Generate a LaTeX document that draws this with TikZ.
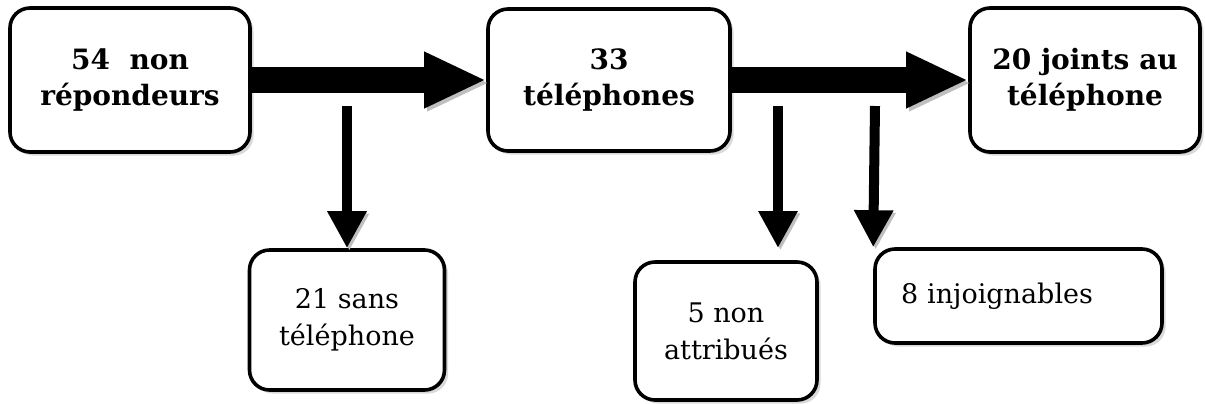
\documentclass[tikz,border=0pt]{standalone}
\usepackage{fontspec}
\setmainfont{DejaVu Serif}
\usepackage{tikz}
\usetikzlibrary{arrows.meta}
\usetikzlibrary{shadows}
\usetikzlibrary{positioning}
\tikzset{>=latex}
\tikzstyle{box} = [rectangle, rounded corners=10pt, draw=black, line width=1.8pt, fill=white, align=center, font=\fontsize{13.5}{18.5}\selectfont, drop shadow={shadow xshift=1.8pt, shadow yshift=-1.8pt, opacity=0.3}]
\tikzstyle{bigbox} = [box, font=\fontsize{14}{18}\selectfont\bfseries]
\tikzstyle{bigarrow} = [-{Triangle[length=31pt, width=26pt]}, line width=13pt, preaction={draw=black!25, transform canvas={shift={(1.5pt,-1.5pt)}}}]
\tikzstyle{smallarrow} = [-{Triangle[length=18.5pt, width=18.5pt]}, line width=5pt, preaction={draw=black!25, transform canvas={shift={(1.2pt,-1.2pt)}}}]
\begin{document}
\begin{tikzpicture}[x=0.5pt, y=-0.5pt]
\useasboundingbox (0, 0) rectangle (1205, 403);
\node [bigbox, minimum width=120pt, minimum height=72pt] (rep) at (130, 80) {54\ \ non\\répondeurs};
\node [bigbox, minimum width=121pt, minimum height=71pt] (tel) at (609, 80) {33\\téléphones};
\node [bigbox, minimum width=115pt, minimum height=72pt] (joint) at (1085, 80) {20 joints au\\téléphone};
\node [box, minimum width=97.5pt, minimum height=70pt] (sans) at (347, 320) {21 sans\\téléphone};
\node [box, minimum width=91pt, minimum height=69pt] (attr) at (726, 331) {5 non\\attribués};
\node [box, minimum width=143.5pt, minimum height=47pt, text width=117.5pt, inner xsep=13pt, align=left] (injo) at (1018.5, 296) {8 injoignables\\[4pt]};
\coordinate (s1) at (347, 106);
\coordinate (s2) at (778, 106);
\coordinate (e2) at (778, 248);
\coordinate (s3) at (875, 106);
\draw [bigarrow] (rep.east) -- (tel.west);
\draw [bigarrow] (tel.east) -- (joint.west);
\draw [smallarrow] (s1) -- (sans.north);
\draw [smallarrow] (s2) -- (e2);
\draw [smallarrow] (s3) -- (injo.north west);
\end{tikzpicture}
\end{document}
